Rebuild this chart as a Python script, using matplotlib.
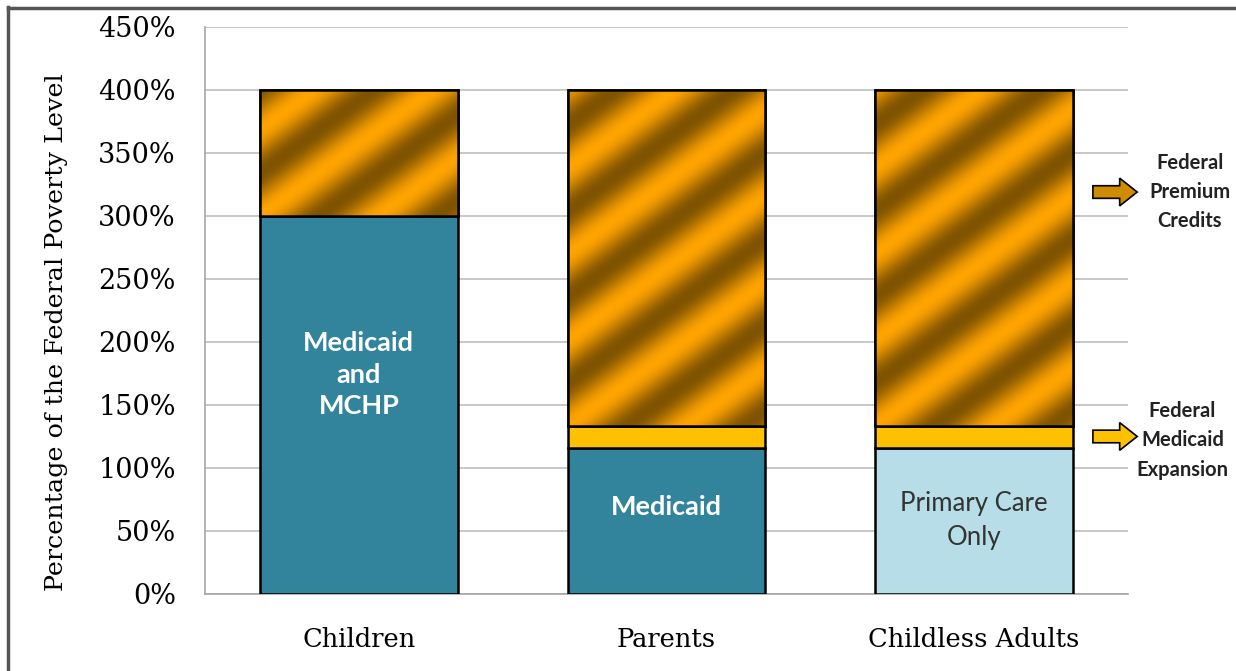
import numpy as np
import matplotlib
matplotlib.use("Agg")
import matplotlib.pyplot as plt
from matplotlib.patches import FancyArrow
from matplotlib.lines import Line2D
from matplotlib.colors import to_rgb

# =========================
# DATA
# =========================
groups = ["Children", "Parents", "Childless Adults"]
base = [300, 116, 116]            # Medicaid / MCHP / primary care
expansion = [0, 17, 17]           # federal medicaid expansion
premium = [100, 267, 267]         # federal premium credits
base_labels = ["Medicaid\nand\nMCHP", "Medicaid", "Primary Care\nOnly"]
yticks = [0, 50, 100, 150, 200, 250, 300, 350, 400, 450]
ytick_labels = [f"{v}%" for v in yticks]

TEAL = "#31849B"
LIGHT = "#B7DEE8"
YELLOW = "#FFC000"
ORANGE = "#FFA400"
BROWN = "#7F5300"

serif = "DejaVu Serif"
sans = "Lato"

# =========================
# FIGURE
# =========================
fig = plt.figure(figsize=(12.36, 6.71), dpi=100)
ax = fig.add_axes([0.1659, 0.1148, 0.7467, 0.845])
x = np.arange(len(groups))
ax.set_xlim(-0.5, 2.5)
ax.set_ylim(0, 450)

base_colors = [TEAL, TEAL, LIGHT]
ax.bar(x, base, width=0.643, color=base_colors, edgecolor="black", linewidth=1.8, zorder=3)
bottom2 = np.array(base)
ax.bar(x[1:], expansion[1:], width=0.643, bottom=bottom2[1:], color=YELLOW,
       edgecolor="black", linewidth=1.8, zorder=3)
bottom3 = bottom2 + np.array(expansion)
prem_bars = ax.bar(x, premium, width=0.643, bottom=bottom3, color="#C07A00",
                   edgecolor="black", linewidth=1.8, zorder=3)

# gradient stripes on the premium credit bars
c1 = np.array(to_rgb(BROWN))
c2 = np.array(to_rgb(ORANGE))
fig.canvas.draw()
for p in prem_bars:
    x0, y0 = p.get_x(), p.get_y()
    x1, y1 = x0 + p.get_width(), y0 + p.get_height()
    (px0, py0), (px1, py1) = ax.transData.transform([(x0, y0), (x1, y1)])
    w, h = int(abs(px1 - px0)) + 1, int(abs(py1 - py0)) + 1
    gx, gy = np.meshgrid(np.arange(w), np.arange(h))   # gy grows upward
    phase = gx / 118.0 - gy / 86.0
    v = 0.5 + 0.5 * np.cos(2 * np.pi * phase)
    img = c1[None, None, :] * (1 - v[..., None]) + c2[None, None, :] * v[..., None]
    im = ax.imshow(img, extent=(x0, x1, y0, y1), origin="lower",
                   aspect="auto", zorder=3.5, interpolation="bilinear")
    im.set_clip_path(p)
    ax.add_patch(plt.Rectangle((x0, y0), x1 - x0, y1 - y0, fill=False,
                               edgecolor="black", linewidth=1.8, zorder=4))
ax.set_xlim(-0.5, 2.5)
ax.set_ylim(0, 450)

# labels inside the bars
ax.text(x[0], 174, base_labels[0], ha="center", va="center", color="white",
        fontsize=19.5, fontweight="bold", family=sans, linespacing=1.38, zorder=5)
ax.text(x[1], 69, base_labels[1], ha="center", va="center", color="white",
        fontsize=19.5, fontweight="bold", family=sans, zorder=5)
ax.text(x[2], 58.5, base_labels[2], ha="center", va="center", color="#333333",
        fontsize=18.5, family=sans, linespacing=1.45, zorder=5)

# axes styling
ax.set_yticks(yticks)
ax.set_yticklabels(ytick_labels, family=serif, fontsize=19.5)
ax.set_xticks(x)
ax.set_xticklabels(groups, family=serif, fontsize=18.5)
ax.tick_params(axis="y", length=0, pad=21)
ax.tick_params(axis="x", length=0, pad=24)
ax.grid(axis="y", color="#BFBFBF", linewidth=1.2, zorder=0)
ax.set_axisbelow(True)
for s in ["top", "right"]:
    ax.spines[s].set_visible(False)
for s in ["left", "bottom"]:
    ax.spines[s].set_color("#A6A6A6")
    ax.spines[s].set_linewidth(1.2)
ax.set_ylabel("Percentage of the Federal Poverty Level", family=serif, fontsize=18.3)
ax.yaxis.set_label_coords(-0.148, 0.462)

# side arrows and notes
ytr = ax.get_yaxis_transform()
arr1 = FancyArrow(0.962, 319, 0.029, 0, width=10, head_width=22, head_length=0.019,
                  length_includes_head=False, transform=ytr, clip_on=False,
                  facecolor="#D08C00", edgecolor="black", linewidth=1.2, zorder=6)
arr2 = FancyArrow(0.962, 125, 0.029, 0, width=10, head_width=22, head_length=0.019,
                  length_includes_head=False, transform=ytr, clip_on=False,
                  facecolor=YELLOW, edgecolor="black", linewidth=1.2, zorder=6)
ax.add_patch(arr1)
ax.add_patch(arr2)
ax.text(1.067, 319, "Federal\nPremium\nCredits", transform=ytr, ha="center",
        va="center", fontsize=14.5, family=sans, fontweight="bold", color="#222222",
        linespacing=1.58)
ax.text(1.059, 122, "Federal\nMedicaid\nExpansion", transform=ytr, ha="center",
        va="center", fontsize=14.5, family=sans, fontweight="bold", color="#222222",
        linespacing=1.58)

# outer frame (left and top)
fig.add_artist(Line2D([0.0065, 0.0065], [0, 0.99], transform=fig.transFigure,
                      color="#555555", linewidth=2.5))
fig.add_artist(Line2D([0.0065, 1.0], [0.9888, 0.9888], transform=fig.transFigure,
                      color="#555555", linewidth=2.5))

fig.savefig("out.png", dpi=100)
